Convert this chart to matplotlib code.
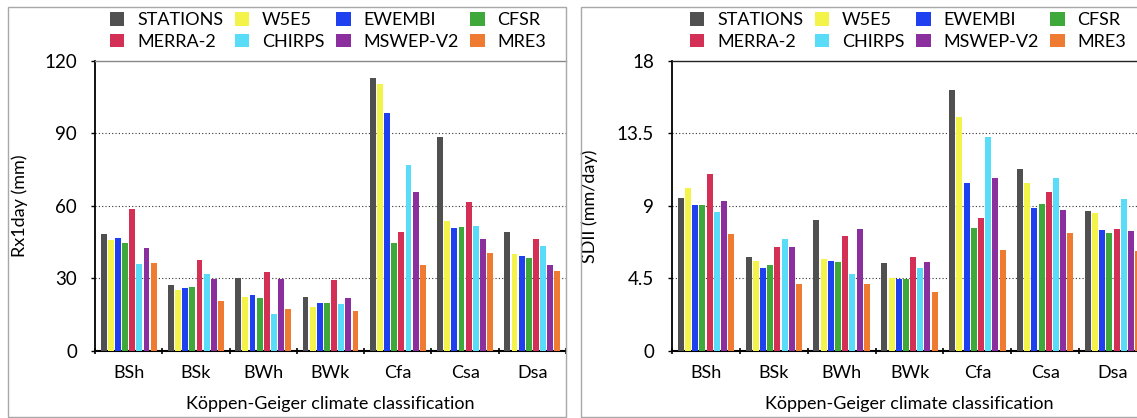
import numpy as np
import matplotlib.pyplot as plt
from matplotlib.patches import Rectangle

plt.rcParams['font.family'] = ['Lato', 'DejaVu Sans']

#-------------------------------------------------------------
# data
climates = ['BSh', 'BSk', 'BWh', 'BWk', 'Cfa', 'Csa', 'Dsa']
datasets = ['STATIONS', 'W5E5', 'EWEMBI', 'CFSR', 'MERRA-2', 'CHIRPS', 'MSWEP-V2', 'MRE3']
colors = ['#505050', '#f3f34a', '#1f40ef', '#3fa83a', '#d42f55', '#58dcf8', '#8b2f9f', '#ef7b33']

# Rx1day (mm), one list per dataset in the order of climates
rx1_stations = [48.3, 27.2, 30.0, 22.2, 113.0, 88.5, 49.3]
rx1_w5e5     = [45.8, 25.1, 22.2, 18.3, 110.5, 53.7, 40.0]
rx1_ewembi   = [46.8, 26.1, 23.2, 19.7, 98.4, 50.7, 39.4]
rx1_cfsr     = [44.6, 26.4, 21.7, 19.7, 44.6, 51.2, 38.5]
rx1_merra2   = [58.7, 37.4, 32.6, 29.2, 49.3, 61.8, 46.2]
rx1_chirps   = [36.1, 31.9, 15.4, 19.3, 76.9, 51.5, 43.5]
rx1_mswep    = [42.5, 29.5, 29.6, 21.7, 65.8, 46.1, 35.4]
rx1_mre3     = [36.4, 20.7, 17.4, 16.5, 35.4, 40.4, 33.0]

# SDII (mm/day)
sdii_stations = [9.48, 5.85, 8.15, 5.46, 16.18, 11.26, 8.69]
sdii_w5e5     = [10.1, 5.58, 5.67, 4.54, 14.5, 10.44, 8.54]
sdii_ewembi   = [9.06, 5.15, 5.60, 4.48, 10.44, 8.88, 7.48]
sdii_cfsr     = [9.06, 5.33, 5.50, 4.48, 7.63, 9.10, 7.29]
sdii_merra2   = [10.99, 6.46, 7.15, 5.85, 8.23, 9.88, 7.58]
sdii_chirps   = [8.63, 6.96, 4.79, 5.15, 13.3, 10.7, 9.42]
sdii_mswep    = [9.33, 6.46, 7.58, 5.50, 10.7, 8.75, 7.44]
sdii_mre3     = [7.23, 4.17, 4.17, 3.67, 6.25, 7.33, 6.17]

rx1 = [rx1_stations, rx1_w5e5, rx1_ewembi, rx1_cfsr, rx1_merra2, rx1_chirps, rx1_mswep, rx1_mre3]
sdii = [sdii_stations, sdii_w5e5, sdii_ewembi, sdii_cfsr, sdii_merra2, sdii_chirps, sdii_mswep, sdii_mre3]

#-------------------------------------------------------------
W, H = 1137, 418
fig = plt.figure(figsize=(W/100, H/100), dpi=100)

def px(x0, y0, x1, y1):
    # pixel box (from top-left) -> figure fraction rect
    return [x0/W, 1 - y1/H, (x1-x0)/W, (y1-y0)/H]

# panel frames
for (x0, x1) in [(8, 566), (581, 1140)]:
    r = px(x0, 7, x1, 417)
    fig.patches.append(Rectangle((r[0], r[1]), r[2], r[3], transform=fig.transFigure,
                                 fill=False, edgecolor='#a8a8a8', lw=1.0))

ax1 = fig.add_axes(px(95, 61, 566, 350.7))
ax2 = fig.add_axes(px(672, 61, 1147, 350.7))

pitch = 0.106
bw = 0.088
xc = np.arange(len(climates)) + 0.5

def draw(ax, series, ymax, step, ylabel, label_x, top_color):
    for j, vals in enumerate(series):
        ax.bar(xc + (j - 3.5)*pitch, vals, width=bw, color=colors[j],
               label=datasets[j], zorder=3)
    ax.set_xlim(0, len(climates))
    ax.set_ylim(0, ymax)
    ax.set_yticks(np.arange(0, ymax + step/2, step))
    ax.set_xticks(np.arange(len(climates) + 1))
    ax.set_xticklabels([])
    ax.set_xticks(xc, minor=True)
    ax.set_xticklabels(climates, minor=True, fontsize=13)
    ax.tick_params(axis='x', which='major', direction='inout', length=5, width=1.2)
    ax.tick_params(axis='x', which='minor', length=0, pad=10)
    ax.tick_params(axis='y', direction='out', length=3, width=1, labelsize=13.5, pad=10)
    ax.yaxis.grid(True, linestyle=(0, (1, 2)), color='#333333', lw=0.8, zorder=0)
    gl = ax.get_ygridlines()
    gl[0].set_visible(False)
    gl[-1].set_visible(False)
    ax.set_axisbelow(True)
    ax.spines['right'].set_visible(False)
    ax.spines['top'].set_color(top_color)
    ax.spines['top'].set_linewidth(1.0)
    ax.spines['left'].set_linewidth(1.3)
    ax.spines['bottom'].set_linewidth(1.5)
    ax.set_ylabel(ylabel, fontsize=13)
    ax.yaxis.set_label_coords(label_x, 0.5)
    ax.set_xlabel('Köppen-Geiger climate classification', fontsize=13, labelpad=11)

    # legend: 4 columns, 2 rows, filled row by row
    h, l = ax.get_legend_handles_labels()
    order = [0, 4, 1, 5, 2, 6, 3, 7]
    return [h[i] for i in order], [l[i] for i in order]

h1, l1 = draw(ax1, rx1, 120, 30, 'Rx1day (mm)', -0.142, '#888888')
h2, l2 = draw(ax2, sdii, 18, 4.5, 'SDII (mm/day)', -0.156, '#222222')
ax2.set_yticklabels(['0', '4.5', '9', '13.5', '18'])

for h, l, x in [(h1, l1, 110), (h2, l2, 690)]:
    fig.legend(h, l, ncol=4, loc='upper left', bbox_to_anchor=(x/W, 1 - 12/H),
               frameon=False, fontsize=13, handlelength=0.8, handleheight=0.8,
               handletextpad=0.7, columnspacing=0.65, labelspacing=0.3,
               borderpad=0, borderaxespad=0)

plt.savefig('out.png', dpi=100)
